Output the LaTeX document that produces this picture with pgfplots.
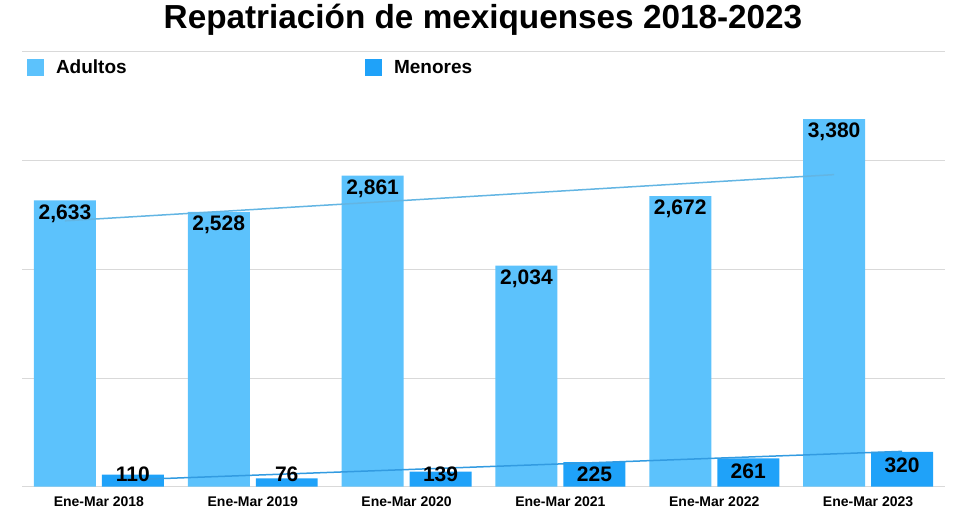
\documentclass[border=0pt]{standalone}
\usepackage{pgfplots}
\pgfplotsset{compat=1.18}
\usepackage{pgfplotstable}
\usepackage{fontspec}
\setmainfont{Liberation Sans}

\definecolor{adultos}{HTML}{5CC2FC}
\definecolor{menores}{HTML}{1FA2F9}
\definecolor{rejilla}{HTML}{D9D9D9}
\definecolor{eje}{HTML}{9A9A9A}

% repatriaciones ene-mar por año
\pgfplotstableread{
i adultos menores
0 2633 110
1 2528 76
2 2861 139
3 2034 225
4 2672 261
5 3380 320
}\datos

% lineas de tendencia (extremos)
\pgfplotstableread{
i adultos menores
0 2445 65
5 2870 325
}\tendencia

\begin{document}
\begin{tikzpicture}
\useasboundingbox (0,0) rectangle (956pt,528pt);
\node[font=\bfseries\fontsize{33.3}{40}\selectfont, anchor=base] at (483pt,499pt) {Repatriación de mexiquenses 2018-2023};
\begin{axis}[
    at={(22pt,41.3pt)}, anchor=south west,
    scale only axis, width=923pt, height=435.5pt,
    xmin=-0.5, xmax=5.5, ymin=0, ymax=4005,
    axis line style={draw=none},
    ytick={1000,2000,3000,4000}, yticklabels={},
    extra y ticks={0}, extra y tick labels={},
    extra y tick style={grid style={draw=eje, line width=1.2pt}},
    ymajorgrids, major grid style={draw=rejilla, line width=0.8pt},
    xtick={0,...,5},
    xticklabels={Ene-Mar 2018,Ene-Mar 2019,Ene-Mar 2020,Ene-Mar 2021,Ene-Mar 2022,Ene-Mar 2023},
    xticklabel style={font=\bfseries\fontsize{14}{16}\selectfont, anchor=base, yshift=-20pt},
    tick style={draw=none},
    legend columns=2,
    legend image code/.code={\fill[#1] (0pt,-8.35pt) rectangle (16.7pt,8.35pt);},
    legend style={at={(axis description cs:0,1)}, anchor=west, xshift=5pt, yshift=-16.2pt,
        draw=none, fill=none, inner sep=0pt, outer sep=0pt,
        font=\bfseries\fontsize{19}{22}\selectfont,
        nodes={inner sep=0pt},
        /tikz/every odd column/.append style={column sep=12.3pt},
        /tikz/every even column/.append style={column sep=238.3pt}},
    every node near coord/.append style={font=\bfseries\fontsize{21}{24}\selectfont, anchor=center,
        yshift={(max(\rawy-120,117)-\rawy)*0.10875}},
]
% barras
\addplot[ybar, bar width=0.403, bar shift=0pt, fill=adultos, draw=none]
    table[x expr=\thisrow{i}-0.221, y=adultos]{\datos};
\addlegendentry{Adultos}
\addplot[ybar, bar width=0.403, bar shift=0pt, fill=menores, draw=none]
    table[x expr=\thisrow{i}+0.221, y=menores]{\datos};
\addlegendentry{Menores}
% tendencias
\addplot[adultos!80!gray, line width=1.5pt, no marks, forget plot]
    table[x expr=\thisrow{i}-0.221, y=adultos]{\tendencia};
\addplot[menores!80!gray, line width=1.5pt, no marks, forget plot]
    table[x expr=\thisrow{i}+0.221, y=menores]{\tendencia};
% etiquetas encima de las tendencias
\addplot[ybar, bar width=0.403, bar shift=0pt, draw=none, fill=none, forget plot,
    visualization depends on={y \as \rawy},
    nodes near coords={\pgfmathprintnumber[assume math mode=true, 1000 sep={,}]{\pgfplotspointmeta}}]
    table[x expr=\thisrow{i}-0.221, y=adultos]{\datos};
\addplot[ybar, bar width=0.403, bar shift=0pt, draw=none, fill=none, forget plot,
    visualization depends on={y \as \rawy},
    nodes near coords={\pgfmathprintnumber[assume math mode=true, 1000 sep={,}]{\pgfplotspointmeta}}]
    table[x expr=\thisrow{i}+0.221, y=menores]{\datos};
\end{axis}
\end{tikzpicture}
\end{document}
